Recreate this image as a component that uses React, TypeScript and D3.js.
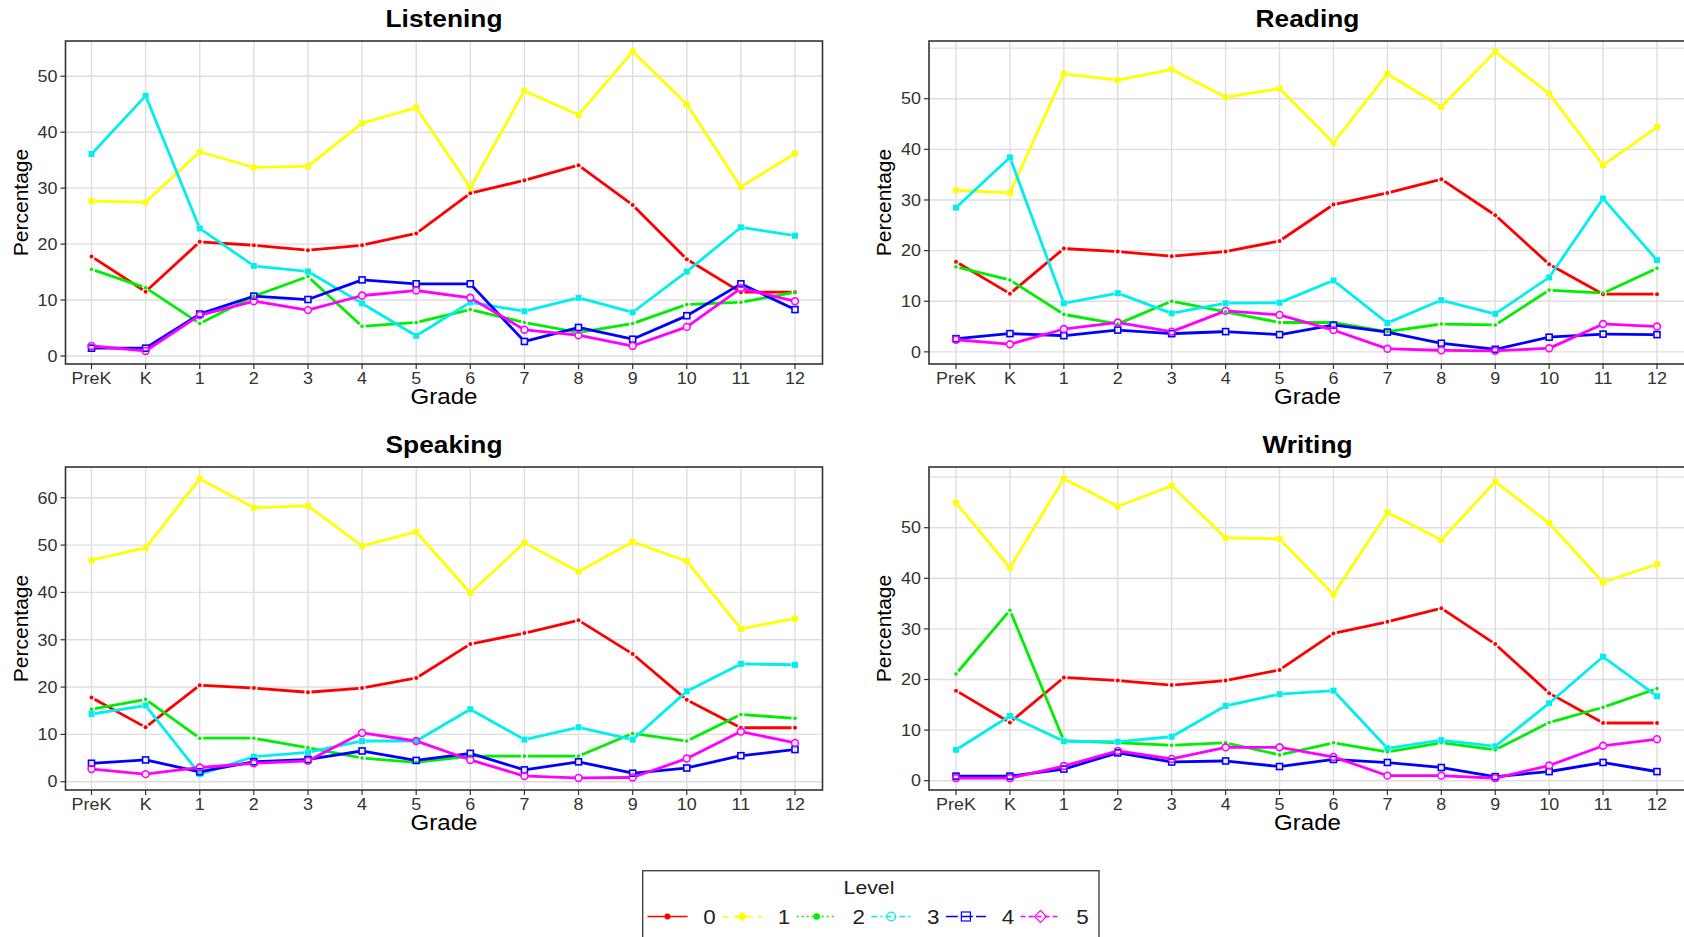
import { scaleLinear, scalePoint, range } from "d3";

const grades = ["PreK", "K", "1", "2", "3", "4", "5", "6", "7", "8", "9", "10", "11", "12"];
const levels = ["0", "1", "2", "3", "4", "5"];
const levelColors = ["#ff0000", "#ffff00", "#00ee00", "#00eeee", "#0000ff", "#ff00ff"];

// level 0 reads the same in all four skills
const level0 = [17.8, 11.5, 20.4, 19.8, 18.9, 19.8, 21.9, 29.1, 31.4, 34.1, 27.0, 17.3, 11.4, 11.4];

const listening = [
  level0,
  [27.7, 27.5, 36.5, 33.7, 33.9, 41.6, 44.4, 30.1, 47.4, 43.1, 54.4, 45.0, 30.2, 36.2],
  [15.5, 12.2, 5.8, 10.7, 14.2, 5.3, 6.0, 8.3, 6.0, 4.2, 5.8, 9.2, 9.6, 11.4],
  [36.1, 46.5, 22.8, 16.1, 15.1, 9.4, 3.6, 9.6, 8.0, 10.4, 7.8, 15.1, 23.0, 21.5],
  [1.4, 1.4, 7.5, 10.7, 10.1, 13.6, 12.9, 12.9, 2.6, 5.1, 3.0, 7.2, 12.9, 8.3],
  [1.8, 0.9, 7.3, 9.8, 8.2, 10.8, 11.7, 10.4, 4.7, 3.7, 1.8, 5.2, 12.1, 9.8]
];

const reading = [
  level0,
  [31.9, 31.4, 54.9, 53.7, 55.8, 50.3, 52.0, 41.3, 54.9, 48.4, 59.3, 51.0, 36.9, 44.4],
  [16.8, 14.2, 7.4, 5.5, 10.0, 7.9, 5.8, 5.8, 4.0, 5.5, 5.3, 12.2, 11.6, 16.5],
  [28.5, 38.4, 9.6, 11.6, 7.6, 9.6, 9.7, 14.1, 5.7, 10.2, 7.5, 14.7, 30.3, 18.1],
  [2.6, 3.6, 3.2, 4.3, 3.6, 4.0, 3.4, 5.3, 3.9, 1.7, 0.5, 2.9, 3.5, 3.4],
  [2.4, 1.5, 4.5, 5.8, 4.0, 8.1, 7.3, 4.3, 0.6, 0.3, 0.2, 0.7, 5.5, 5.0]
];

const speaking = [
  level0,
  [46.8, 49.4, 64.0, 57.9, 58.3, 49.8, 52.8, 39.9, 50.5, 44.4, 50.7, 46.6, 32.3, 34.5],
  [15.3, 17.4, 9.2, 9.2, 7.2, 5.0, 4.1, 5.4, 5.4, 5.4, 10.2, 8.6, 14.2, 13.4],
  [14.3, 16.1, 1.6, 5.3, 6.2, 8.6, 8.6, 15.3, 8.9, 11.5, 8.9, 19.1, 24.9, 24.7],
  [3.9, 4.6, 2.1, 4.2, 4.7, 6.5, 4.5, 6.0, 2.5, 4.2, 1.8, 2.9, 5.5, 6.8],
  [2.7, 1.6, 3.0, 3.9, 4.4, 10.3, 8.6, 4.6, 1.2, 0.8, 0.9, 4.9, 10.6, 8.2]
];

const writing = [
  level0,
  [54.9, 42.1, 59.7, 54.2, 58.3, 48.0, 47.8, 36.8, 53.0, 47.6, 59.1, 50.9, 39.2, 42.8],
  [21.1, 33.7, 7.9, 7.5, 7.0, 7.5, 5.1, 7.5, 5.7, 7.5, 6.1, 11.5, 14.5, 18.2],
  [6.1, 12.8, 7.8, 7.7, 8.7, 14.8, 17.1, 17.8, 6.4, 8.0, 6.8, 15.3, 24.5, 16.7],
  [0.9, 0.9, 2.3, 5.5, 3.7, 3.9, 2.8, 4.2, 3.6, 2.6, 0.8, 1.8, 3.6, 1.8],
  [0.5, 0.5, 2.9, 5.9, 4.3, 6.6, 6.6, 4.7, 1.0, 1.0, 0.5, 3.0, 6.9, 8.2]
];

type PanelSpec = {
  title: string;
  series: number[][];
  left: number;
  top: number;
  bottom: number;
  xFrom: number;
  xTo: number;
  yDomain: [number, number];
  gridMax: number;
  labelMax: number;
};

const panelWidth = 757;
const font = "'Liberation Sans', Arial, sans-serif";
const tickColor = "#333333";
const gap = 3.5;
// the source picture is a little stretched sideways
const stretch = 1.12;

const panels: PanelSpec[] = [
  { title: "Listening", series: listening, left: 65.5, top: 41, bottom: 364, xFrom: 91.5, xTo: 795, yDomain: [-1.43, 56.3], gridMax: 50, labelMax: 50 },
  { title: "Reading", series: reading, left: 929, top: 41, bottom: 364, xFrom: 956, xTo: 1657, yDomain: [-2.4, 61.4], gridMax: 60, labelMax: 50 },
  { title: "Speaking", series: speaking, left: 65.5, top: 467, bottom: 790, xFrom: 91.5, xTo: 795, yDomain: [-1.75, 66.5], gridMax: 60, labelMax: 60 },
  { title: "Writing", series: writing, left: 929, top: 467, bottom: 790, xFrom: 956, xTo: 1657, yDomain: [-1.84, 62.0], gridMax: 60, labelMax: 50 }
];

type HTextProps = {
  x: number;
  y: number;
  size: number;
  anchor?: "start" | "middle" | "end";
  bold?: boolean;
  fill?: string;
  dy?: string;
  children: React.ReactNode;
};

function HText({ x, y, size, anchor = "middle", bold, fill = "#000", dy, children }: HTextProps) {
  return (
    <text transform={`translate(${x}, ${y}) scale(${stretch}, 1)`} dy={dy} textAnchor={anchor}
      fontFamily={font} fontSize={size} fontWeight={bold ? "bold" : "normal"} fill={fill}>
      {children}
    </text>
  );
}

function Marker({ level, x, y }: { level: number; x: number; y: number }) {
  const c = levelColors[level];
  if (level === 0) return <circle cx={x} cy={y} r={2} fill={c} />;
  if (level === 1) return <rect x={x - 3} y={y - 3} width={6} height={6} fill={c} />;
  if (level === 2) return <circle cx={x} cy={y} r={1.8} fill={c} />;
  if (level === 3) return <rect x={x - 3} y={y - 3} width={6} height={6} fill={c} />;
  if (level === 4)
    return <rect x={x - 3} y={y - 3} width={6} height={6} fill="none" stroke={c} strokeWidth={1.6} />;
  return <circle cx={x} cy={y} r={3.4} fill="none" stroke={c} strokeWidth={1.6} />;
}

function Panel({ spec }: { spec: PanelSpec }) {
  const right = spec.left + panelWidth;
  const xScale = scalePoint<string>().domain(grades).range([spec.xFrom, spec.xTo]);
  const yScale = scaleLinear().domain(spec.yDomain).range([spec.bottom, spec.top]);
  const gridValues = range(0, spec.gridMax + 1, 10);
  const labelValues = gridValues.filter((v) => v <= spec.labelMax);
  const cx = (spec.left + right) / 2;
  const cy = (spec.top + spec.bottom) / 2;

  return (
    <g>
      <HText x={cx} y={spec.top - 14} size={23.5} bold>
        {spec.title}
      </HText>
      {gridValues.map((v) => (
        <line key={`gy-${v}`} x1={spec.left} x2={right} y1={yScale(v)} y2={yScale(v)}
          stroke="#dedede" strokeWidth={1.4} />
      ))}
      {grades.map((g) => (
        <line key={`gx-${g}`} x1={xScale(g)} x2={xScale(g)} y1={spec.top} y2={spec.bottom}
          stroke="#dedede" strokeWidth={1.4} />
      ))}
      {spec.series.map((values, level) => {
        const pts = values.map((v, i) => [xScale(grades[i]) as number, yScale(v)]);
        return (
          <g key={`s-${level}`}>
            {pts.slice(1).map((p, i) => {
              const a = pts[i];
              const dx = p[0] - a[0];
              const dy = p[1] - a[1];
              const d = Math.sqrt(dx * dx + dy * dy);
              if (d < gap * 2) return null;
              const ux = dx / d;
              const uy = dy / d;
              return (
                <line key={i} x1={a[0] + ux * gap} y1={a[1] + uy * gap} x2={p[0] - ux * gap} y2={p[1] - uy * gap}
                  stroke={levelColors[level]} strokeWidth={2.8} />
              );
            })}
            {pts.map((p, i) => (
              <Marker key={`m-${i}`} level={level} x={p[0]} y={p[1]} />
            ))}
          </g>
        );
      })}
      <rect x={spec.left} y={spec.top} width={panelWidth} height={spec.bottom - spec.top}
        fill="none" stroke="#333" strokeWidth={1.6} />
      {labelValues.map((v) => (
        <line key={`ty-${v}`} x1={spec.left - 5} x2={spec.left} y1={yScale(v)} y2={yScale(v)}
          stroke={tickColor} strokeWidth={1.2} />
      ))}
      {labelValues.map((v) => (
        <HText key={`ly-${v}`} x={spec.left - 8} y={yScale(v)} dy="0.36em" anchor="end" size={16} fill={tickColor}>
          {v}
        </HText>
      ))}
      {grades.map((g) => (
        <g key={`tx-${g}`}>
          <line x1={xScale(g)} x2={xScale(g)} y1={spec.bottom} y2={spec.bottom + 5} stroke={tickColor} strokeWidth={1.2} />
          <HText x={xScale(g) as number} y={spec.bottom + 14} dy="0.36em" size={16} fill={tickColor}>
            {g}
          </HText>
        </g>
      ))}
      <HText x={cx} y={spec.bottom + 40} size={21.5}>
        Grade
      </HText>
      <text transform={`translate(${spec.left - 38}, ${cy}) rotate(-90)`} textAnchor="middle"
        fontFamily={font} fontSize={21} fill="#000">
        Percentage
      </text>
    </g>
  );
}

const legendDash = ["", "7,5", "2,3", "6,3,2,3", "12,3", "5,3"];

function LegendKey({ level, x, y }: { level: number; x: number; y: number }) {
  const c = levelColors[level];
  const mx = x + 20;
  let marker = null;
  if (level === 0) marker = <circle cx={mx} cy={y} r={3} fill={c} />;
  else if (level === 1) marker = <path d={`M${mx},${y - 5}L${mx + 5},${y}L${mx},${y + 5}L${mx - 5},${y}Z`} fill={c} />;
  else if (level === 2) marker = <circle cx={mx} cy={y} r={3.3} fill={c} />;
  else if (level === 3) marker = <circle cx={mx} cy={y} r={4.3} fill="none" stroke={c} strokeWidth={1.2} />;
  else if (level === 4) marker = <rect x={mx - 4.5} y={y - 4.5} width={9} height={9} fill="none" stroke={c} strokeWidth={1.2} />;
  else marker = <path d={`M${mx},${y - 6}L${mx + 6},${y}L${mx},${y + 6}L${mx - 6},${y}Z`} fill="none" stroke={c} strokeWidth={1.2} />;
  return (
    <g>
      <line x1={x} x2={x + 40} y1={y} y2={y} stroke={c} strokeWidth={1.4}
        strokeDasharray={legendDash[level] || undefined} />
      {marker}
      <HText x={x + 62} y={y} dy="0.36em" size={20} fill="#222">
        {levels[level]}
      </HText>
    </g>
  );
}

export default function App() {
  const legendLeft = 647.5;
  const legendStep = 74.6;
  return (
    <svg width={1684} height={937} style={{ position: "absolute", left: 0, top: 0, background: "#fff" }}>
      <rect x={0} y={0} width={1684} height={937} fill="#fff" />
      {panels.map((p) => (
        <Panel key={p.title} spec={p} />
      ))}
      <rect x={642.7} y={870.7} width={456.3} height={100} fill="none" stroke="#444" strokeWidth={1.4} />
      <HText x={869} y={887} dy="0.36em" size={19} fill="#222">
        Level
      </HText>
      {levels.map((_, i) => (
        <LegendKey key={i} level={i} x={legendLeft + i * legendStep} y={916.5} />
      ))}
    </svg>
  );
}
